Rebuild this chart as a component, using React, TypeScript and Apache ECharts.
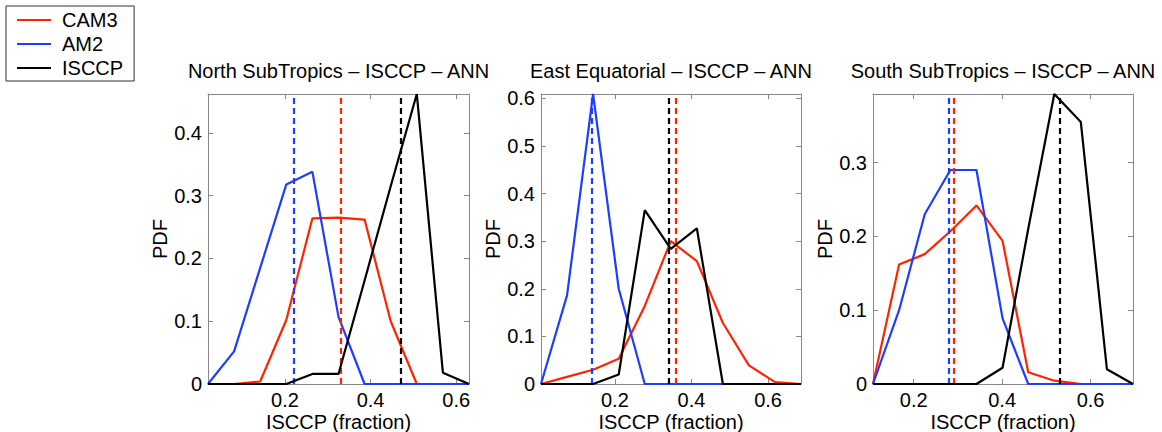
import React, { useEffect, useRef } from "react";
import * as echarts from "echarts";

const FONT = '"Liberation Sans", Arial, Helvetica, sans-serif';

const seriesNames = ["CAM3", "AM2", "ISCCP"];
const seriesColors = ["#ff2400", "#1f3dff", "#000000"];

const panelTitles = [
  "North SubTropics \u2013 ISCCP \u2013 ANN",
  "East Equatorial \u2013 ISCCP \u2013 ANN",
  "South SubTropics \u2013 ISCCP \u2013 ANN",
];

// North SubTropics
const northX = [0.02, 0.081, 0.142, 0.203, 0.264, 0.325, 0.386, 0.447, 0.508, 0.569, 0.63];
const northCAM3 = [0, 0, 0.004, 0.102, 0.264, 0.265, 0.262, 0.1, 0, 0, 0];
const northAM2 = [0, 0.052, 0.185, 0.318, 0.338, 0.107, 0, 0, 0, 0, 0];
const northISCCP = [0, 0, 0, 0, 0.016, 0.016, 0.165, 0.315, 0.462, 0.018, 0];
const northMeans = [0.325, 0.221, 0.473];
const northYTicks = [0, 0.1, 0.2, 0.3, 0.4];

// East Equatorial
const eastX = [0.007, 0.075, 0.143, 0.21, 0.278, 0.346, 0.414, 0.482, 0.55, 0.618, 0.686];
const eastCAM3 = [0, 0.015, 0.03, 0.053, 0.164, 0.3, 0.258, 0.128, 0.039, 0.004, 0];
const eastAM2 = [0, 0.186, 0.609, 0.2, 0, 0, 0, 0, 0, 0, 0];
const eastISCCP = [0, 0, 0, 0.02, 0.365, 0.284, 0.327, 0, 0, 0, 0];
const eastMeans = [0.361, 0.139, 0.338];
const eastYTicks = [0, 0.1, 0.2, 0.3, 0.4, 0.5, 0.6];

// South SubTropics
const southX = [0.108, 0.167, 0.225, 0.283, 0.342, 0.401, 0.459, 0.518, 0.578, 0.637, 0.696];
const southCAM3 = [0, 0.162, 0.176, 0.207, 0.242, 0.194, 0.016, 0.0045, 0, 0, 0];
const southAM2 = [0, 0.1, 0.23, 0.29, 0.29, 0.089, 0, 0, 0, 0, 0];
const southISCCP = [0, 0, 0, 0, 0, 0.022, 0.21, 0.393, 0.355, 0.02, 0];
const southMeans = [0.295, 0.285, 0.533];
const southYTicks = [0, 0.1, 0.2, 0.3];

const xTickValues = [0.2, 0.4, 0.6];

const panels = [
  { title: panelTitles[0], x: northX, ys: [northCAM3, northAM2, northISCCP], means: northMeans, yTicks: northYTicks },
  { title: panelTitles[1], x: eastX, ys: [eastCAM3, eastAM2, eastISCCP], means: eastMeans, yTicks: eastYTicks },
  { title: panelTitles[2], x: southX, ys: [southCAM3, southAM2, southISCCP], means: southMeans, yTicks: southYTicks },
];

const gridLayout = [
  { left: 208, top: 94, width: 261, height: 290 },
  { left: 541, top: 94, width: 260, height: 290 },
  { left: 873, top: 94, width: 260, height: 290 },
];

const AXIS_GRAY = "#888888";

export default function App() {
  const ref = useRef<HTMLDivElement>(null);

  useEffect(() => {
    if (!ref.current) return;
    const chart = echarts.init(ref.current, undefined, { renderer: "svg" });

    const xAxes: any[] = [];
    const yAxes: any[] = [];
    const series: any[] = [];
    const titles: any[] = [];

    panels.forEach((p, i) => {
      const xmin = p.x[0];
      const xmax = p.x[p.x.length - 1];
      const ymax = Math.max(...p.ys.map((s) => Math.max(...s)));
      const g = gridLayout[i];
      titles.push({
        text: p.title,
        left: g.left + g.width / 2,
        top: 61,
        textAlign: "center",
        padding: 0,
        textStyle: { fontFamily: FONT, fontSize: 20, fontWeight: "normal", color: "#000" },
      });
      xAxes[i] = {
        type: "value",
        gridIndex: i,
        min: xmin,
        max: xmax,
        position: "bottom",
        axisLine: { show: true, onZero: false, lineStyle: { color: AXIS_GRAY, width: 1 } },
        axisTick: { show: true, inside: true, length: 5, customValues: xTickValues, lineStyle: { color: AXIS_GRAY } },
        axisLabel: { show: true, customValues: xTickValues, margin: 6, fontFamily: FONT, fontSize: 20, lineHeight: 20, color: "#000" },
        splitLine: { show: false },
        name: "ISCCP (fraction)",
        nameLocation: "middle",
        nameGap: 28,
        nameMoveOverlap: false,
        nameTextStyle: { fontFamily: FONT, fontSize: 20, color: "#000", verticalAlign: "top", lineHeight: 20 },
      };
      xAxes[i + 3] = {
        type: "value",
        gridIndex: i,
        min: xmin,
        max: xmax,
        position: "top",
        axisLine: { show: true, onZero: false, lineStyle: { color: AXIS_GRAY, width: 1 } },
        axisTick: { show: true, inside: true, length: 5, customValues: xTickValues, lineStyle: { color: AXIS_GRAY } },
        axisLabel: { show: false },
        splitLine: { show: false },
      };
      yAxes[i] = {
        type: "value",
        gridIndex: i,
        min: 0,
        max: ymax,
        position: "left",
        axisLine: { show: true, onZero: false, lineStyle: { color: AXIS_GRAY, width: 1 } },
        axisTick: { show: true, inside: true, length: 5, customValues: p.yTicks, lineStyle: { color: AXIS_GRAY } },
        axisLabel: { show: true, customValues: p.yTicks, margin: 6, fontFamily: FONT, fontSize: 20, color: "#000" },
        splitLine: { show: false },
        name: "PDF",
        nameLocation: "middle",
        nameRotate: 90,
        nameGap: 38,
        nameMoveOverlap: false,
        nameTextStyle: { fontFamily: FONT, fontSize: 20, color: "#000" },
      };
      yAxes[i + 3] = {
        type: "value",
        gridIndex: i,
        min: 0,
        max: ymax,
        position: "right",
        axisLine: { show: true, onZero: false, lineStyle: { color: AXIS_GRAY, width: 1 } },
        axisTick: { show: true, inside: true, length: 5, customValues: p.yTicks, lineStyle: { color: AXIS_GRAY } },
        axisLabel: { show: false },
        splitLine: { show: false },
      };

      seriesNames.forEach((name, k) => {
        const color = seriesColors[k];
        series.push({
          type: "line",
          name,
          xAxisIndex: i,
          yAxisIndex: i,
          data: p.x.map((xv, j) => [xv, p.ys[k][j]]),
          showSymbol: false,
          symbol: "none",
          color,
          itemStyle: { color },
          lineStyle: { color, width: 2.2 },
          z: 3 + k,
          markLine: {
            silent: true,
            symbol: ["none", "none"],
            label: { show: false },
            lineStyle: { color, width: 2.2, type: [6, 4] },
            data: [{ xAxis: p.means[k] }],
          },
        });
      });
    });

    chart.setOption({
      animation: false,
      backgroundColor: "#ffffff",
      title: titles,
      legend: {
        left: 6,
        top: 6,
        orient: "vertical",
        data: seriesNames.map((n) => ({ name: n, icon: "rect" })),
        itemWidth: 34,
        itemHeight: 2,
        itemGap: 4,
        padding: [4, 11, 3, 11],
        borderColor: "#333",
        borderWidth: 1,
        backgroundColor: "#fff",
        selectedMode: false,
        textStyle: { fontFamily: FONT, fontSize: 20, color: "#000", lineHeight: 20, padding: [0, 0, 0, 6] },
      },
      grid: gridLayout.map((g) => ({ ...g, containLabel: false, outerBoundsMode: "none" })),
      xAxis: xAxes,
      yAxis: yAxes,
      series,
    });

    return () => chart.dispose();
  }, []);

  return (
    <div
      ref={ref}
      style={{ position: "fixed", left: 0, top: 0, width: 1162, height: 432, background: "#fff" }}
    />
  );
}
